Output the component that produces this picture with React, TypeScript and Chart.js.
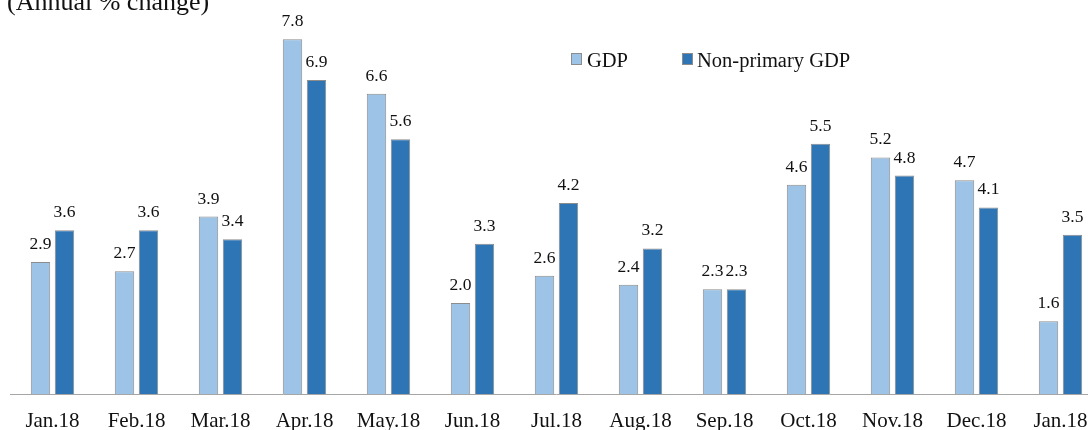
import React, { useEffect, useRef } from "react";
import { Chart, registerables } from "chart.js";

Chart.register(...registerables);

const categories = ["Jan.18", "Feb.18", "Mar.18", "Apr.18", "May.18", "Jun.18", "Jul.18", "Aug.18", "Sep.18", "Oct.18", "Nov.18", "Dec.18", "Jan.18"];
const gdpValues = [2.9, 2.7, 3.9, 7.8, 6.6, 2.0, 2.6, 2.4, 2.3, 4.6, 5.2, 4.7, 1.6];
const nonPrimaryValues = [3.6, 3.6, 3.4, 6.9, 5.6, 3.3, 4.2, 3.2, 2.3, 5.5, 4.8, 4.1, 3.5];
const seriesNames = ["GDP", "Non-primary GDP"];
const titleText = "(Annual % change)";

const FONT = "'Liberation Serif', 'Times New Roman', serif";
const LIGHT = "#9DC3E6";
const DARK = "#2E75B6";
const BORDER = "#8C8C8C";

const overlayPlugin = {
  id: "overlay",
  afterDatasetsDraw(chart: any) {
    const ctx = chart.ctx;
    ctx.save();
    // data labels
    ctx.fillStyle = "#111";
    ctx.font = `17.5px ${FONT}`;
    ctx.textAlign = "center";
    ctx.textBaseline = "alphabetic";
    chart.data.datasets.forEach((ds: any, di: number) => {
      const meta = chart.getDatasetMeta(di);
      meta.data.forEach((el: any, i: number) => {
        const v = ds.data[i];
        ctx.fillText(v.toFixed(1), el.x, el.y - 13);
      });
    });
    // title
    ctx.textAlign = "left";
    ctx.font = `26px ${FONT}`;
    ctx.fillText(titleText, 7, 9.5);
    // legend
    ctx.font = `20.5px ${FONT}`;
    const items = [
      { x: 571, tx: 587 },
      { x: 682, tx: 697 },
    ];
    chart.data.datasets.forEach((ds: any, di: number) => {
      const it = items[di];
      ctx.fillStyle = ds.backgroundColor;
      ctx.fillRect(it.x, 53.5, 11, 11);
      ctx.strokeStyle = BORDER;
      ctx.lineWidth = 1;
      ctx.strokeRect(it.x + 0.5, 53.5, 10, 11);
      ctx.fillStyle = "#111";
      ctx.fillText(ds.label, it.tx, 66.5);
    });
    ctx.restore();
  },
};

export default function App() {
  const ref = useRef<HTMLCanvasElement>(null);
  useEffect(() => {
    document.body.style.margin = "0";
    const chart = new Chart(ref.current!, {
      type: "bar",
      data: {
        labels: categories,
        datasets: [
          {
            label: seriesNames[0],
            data: gdpValues,
            backgroundColor: LIGHT,
            borderColor: BORDER,
            borderWidth: 1,
            barPercentage: 0.81,
            categoryPercentage: 0.571,
          },
          {
            label: seriesNames[1],
            data: nonPrimaryValues,
            backgroundColor: DARK,
            borderColor: BORDER,
            borderWidth: 1,
            barPercentage: 0.81,
            categoryPercentage: 0.571,
          },
        ],
      },
      options: {
        animation: false,
        responsive: false,
        maintainAspectRatio: false,
        layout: { padding: { left: 10.5, right: 7.5, top: 0, bottom: 0.8 } },
        plugins: {
          legend: { display: false },
          title: { display: false },
          tooltip: { enabled: false },
        },
        scales: {
          x: {
            grid: { display: false, drawTicks: false },
            border: { display: true, color: "#A6A6A6", width: 1 },
            ticks: { color: "#111", font: { family: FONT, size: 21 }, padding: 15, autoSkip: false, maxRotation: 0 },
          },
          y: {
            display: false,
            min: 0,
            max: 8.66,
          },
        },
      },
      plugins: [overlayPlugin],
    });
    return () => chart.destroy();
  }, []);
  return (
    <div style={{ position: "absolute", left: 0, top: 0, width: 1088, height: 430, overflow: "hidden", background: "#fff" }}>
      <canvas ref={ref} width={1110} height={450} style={{ display: "block", width: 1110, height: 450 }} />
    </div>
  );
}
